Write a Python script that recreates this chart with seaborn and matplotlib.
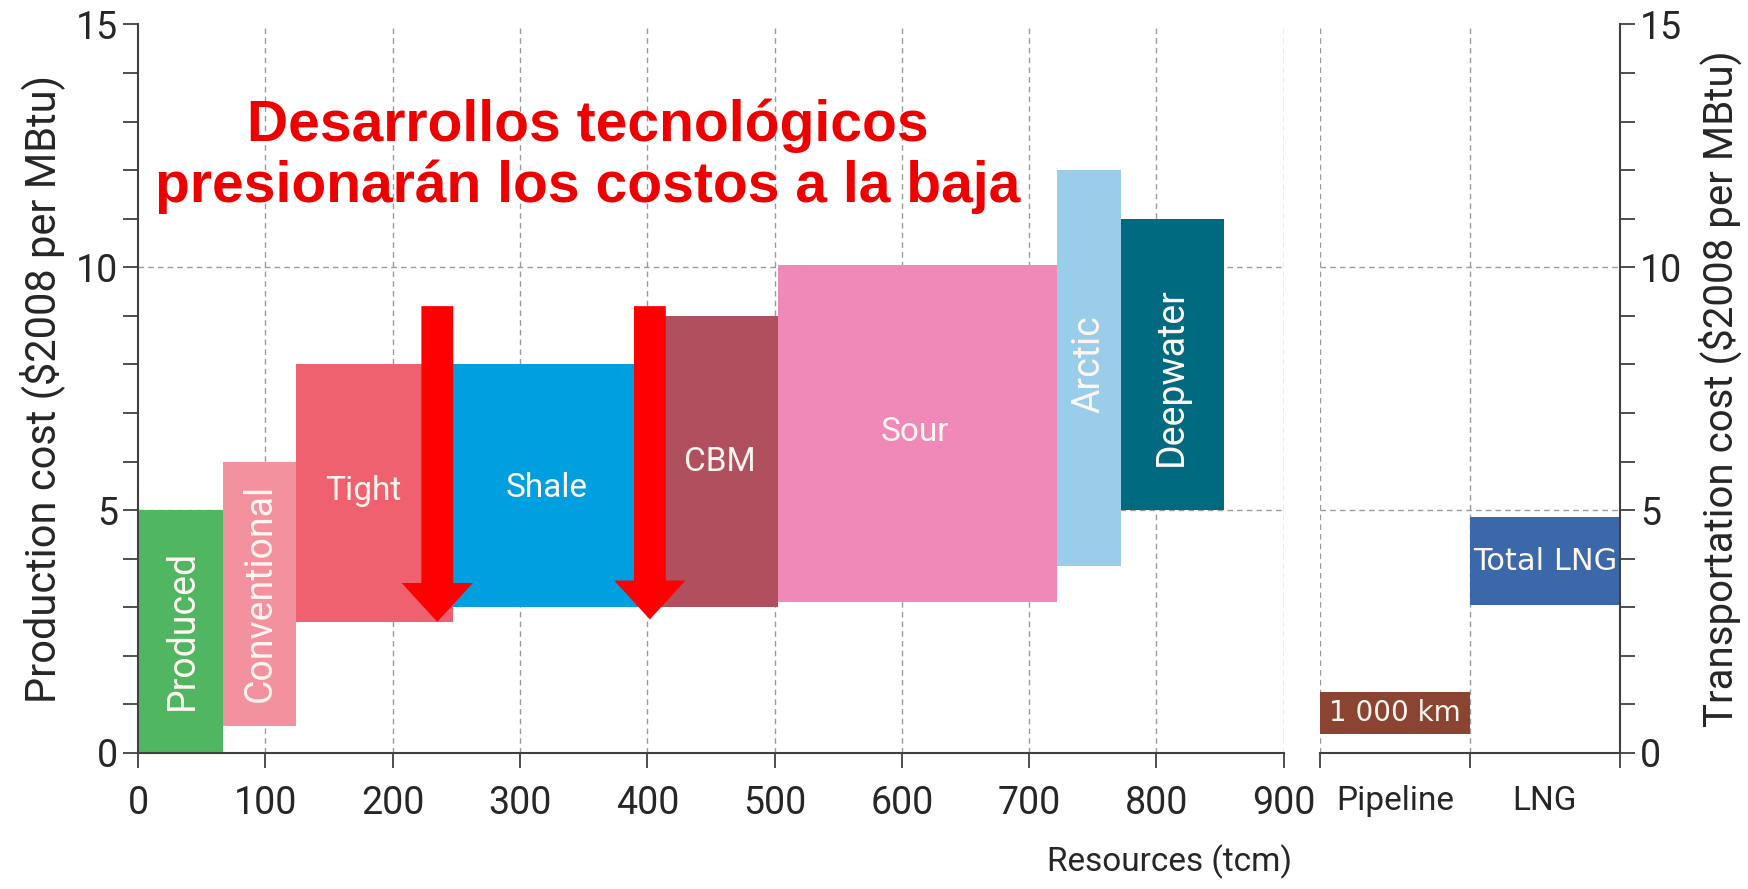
# gas supply cost curve: production cost by resource type + transport cost

import matplotlib
matplotlib.use('Agg')
import matplotlib.pyplot as plt
import seaborn as sns

# production cost blocks (x in tcm, y in $2008 per MBtu)
resource_names = ['Produced', 'Conventional', 'Tight', 'Shale', 'CBM', 'Sour', 'Arctic', 'Deepwater']
res_start = [0, 67, 124, 247, 405, 503, 722, 772]
res_end = [67, 124, 247, 405, 503, 722, 772, 853]
cost_low = [0, 0.55, 2.7, 3.0, 3.0, 3.1, 3.85, 5.0]
cost_high = [5.0, 6.0, 8.0, 8.0, 9.0, 10.05, 12.0, 11.0]
res_colors = ['#50b662', '#f4919f', '#f0616f', '#009fe0', '#b0505f', '#f089b8', '#99cde9', '#006a80']

# transport cost blocks
transport_cats = ['Pipeline', 'LNG']
transport_labels = ['1 000 km', 'Total LNG']
transport_low = [0.4, 3.05]
transport_high = [1.25, 4.85]
transport_colors = ['#8b4431', '#3a68a8']

# technology arrows (x centre, top, tip)
arrow_x = [235, 402]
arrow_top = [9.2, 9.2]
arrow_tip = [2.7, 2.75]

sns.set_style('white')
plt.rcParams['font.family'] = ['Roboto', 'DejaVu Sans']

fig = plt.figure(figsize=(17.49, 8.89), dpi=100)
ax = fig.add_axes([0.079, 0.153, 0.655, 0.8195])
ax2 = fig.add_axes([0.7547, 0.153, 0.1715, 0.8195])

dark = '#404040'
txt = '#262626'
grid_kw = dict(color='#9a9a9a', linestyle=(0, (4, 3)), linewidth=1, zorder=0)

# main panel
for v in range(100, 1000, 100):
    ax.axvline(v, **grid_kw)
for h in [5, 10]:
    ax.axhline(h, **grid_kw)

for i in range(len(resource_names)):
    ax.bar(res_start[i], cost_high[i] - cost_low[i], width=res_end[i] - res_start[i],
           bottom=cost_low[i], align='edge', color=res_colors[i], linewidth=0, zorder=2)

label_pos = {
    'Produced': (35, 2.53, 90), 'Conventional': (96, 3.3, 90), 'Tight': (177, 5.4, 0),
    'Shale': (321, 5.45, 0), 'CBM': (457, 6.0, 0), 'Sour': (610, 6.6, 0),
    'Arctic': (747, 8.0, 90), 'Deepwater': (812, 7.75, 90),
}
for name in resource_names:
    x, y, rot = label_pos[name]
    ax.text(x, y, name, rotation=rot, ha='center', va='center', color='#fff6f0',
            fontsize=27 if rot else 24, zorder=3)

for x, top, tip in zip(arrow_x, arrow_top, arrow_tip):
    ax.arrow(x, top, 0, tip - top, width=25, head_width=56, head_length=0.8,
             length_includes_head=True, color='#ff0000', linewidth=0, zorder=4)

ax.text(353, 12.28, 'Desarrollos tecnológicos\npresionarán los costos a la baja',
        ha='center', va='center', color='#ee0000', fontsize=41, fontweight='bold',
        family=['Liberation Sans', 'DejaVu Sans'], linespacing=1.15, zorder=5)

ax.set_xlim(0, 900)
ax.set_ylim(0, 15)
ax.set_xticks(range(0, 1000, 100))
ax.set_yticks([0, 5, 10, 15])
ax.set_yticks(range(0, 16), minor=True)
ax.tick_params(axis='both', which='both', direction='out', length=11, width=1.3,
               color=dark, labelcolor=txt, labelsize=27)
ax.tick_params(axis='x', pad=12)
ax.tick_params(left=True, bottom=True)
ax.tick_params(axis='y', which='minor', left=True)
for s in ['top', 'right']:
    ax.spines[s].set_visible(False)
for s in ['left', 'bottom']:
    ax.spines[s].set_color(dark)
    ax.spines[s].set_linewidth(1.5)
ax.set_ylabel('Production cost ($2008 per MBtu)', fontsize=30, color=txt, labelpad=8)
ax.set_xlabel('Resources (tcm)', fontsize=24, color=txt)
ax.xaxis.set_label_coords(0.9, -0.125)

# transport panel
for v in [0, 1]:
    ax2.axvline(v, **grid_kw)
for h in [5, 10]:
    ax2.axhline(h, **grid_kw)
for i in range(len(transport_cats)):
    ax2.bar(i, transport_high[i] - transport_low[i], width=1, bottom=transport_low[i],
            align='edge', color=transport_colors[i], linewidth=0, zorder=2)
    ax2.text(i + 0.5, (transport_low[i] + transport_high[i]) / 2, transport_labels[i],
             ha='center', va='center', color='#fff6f0', fontsize=20 if i == 0 else 22,
             zorder=3, family=['DejaVu Sans'])

ax2.set_xlim(0, 2)
ax2.set_ylim(0, 15)
ax2.set_xticks([0, 1, 2])
ax2.set_xticklabels([])
ax2.set_xticks([0.5, 1.5], minor=True)
ax2.set_xticklabels(transport_cats, minor=True)
ax2.yaxis.tick_right()
ax2.yaxis.set_label_position('right')
ax2.set_yticks([0, 5, 10, 15])
ax2.set_yticks(range(0, 16), minor=True)
ax2.tick_params(axis='both', which='both', direction='out', length=11, width=1.3,
                color=dark, labelcolor=txt, labelsize=27)
ax2.tick_params(axis='x', which='minor', length=0, pad=23, labelsize=24)
ax2.tick_params(axis='y', which='both', right=True, left=False)
ax2.tick_params(axis='x', which='major', bottom=True)
for s in ['top', 'left']:
    ax2.spines[s].set_visible(False)
for s in ['right', 'bottom']:
    ax2.spines[s].set_color(dark)
    ax2.spines[s].set_linewidth(1.5)
ax2.set_ylabel('Transportation cost ($2008 per MBtu)', fontsize=29, color=txt, labelpad=12)

fig.savefig('out.png', dpi=100)
